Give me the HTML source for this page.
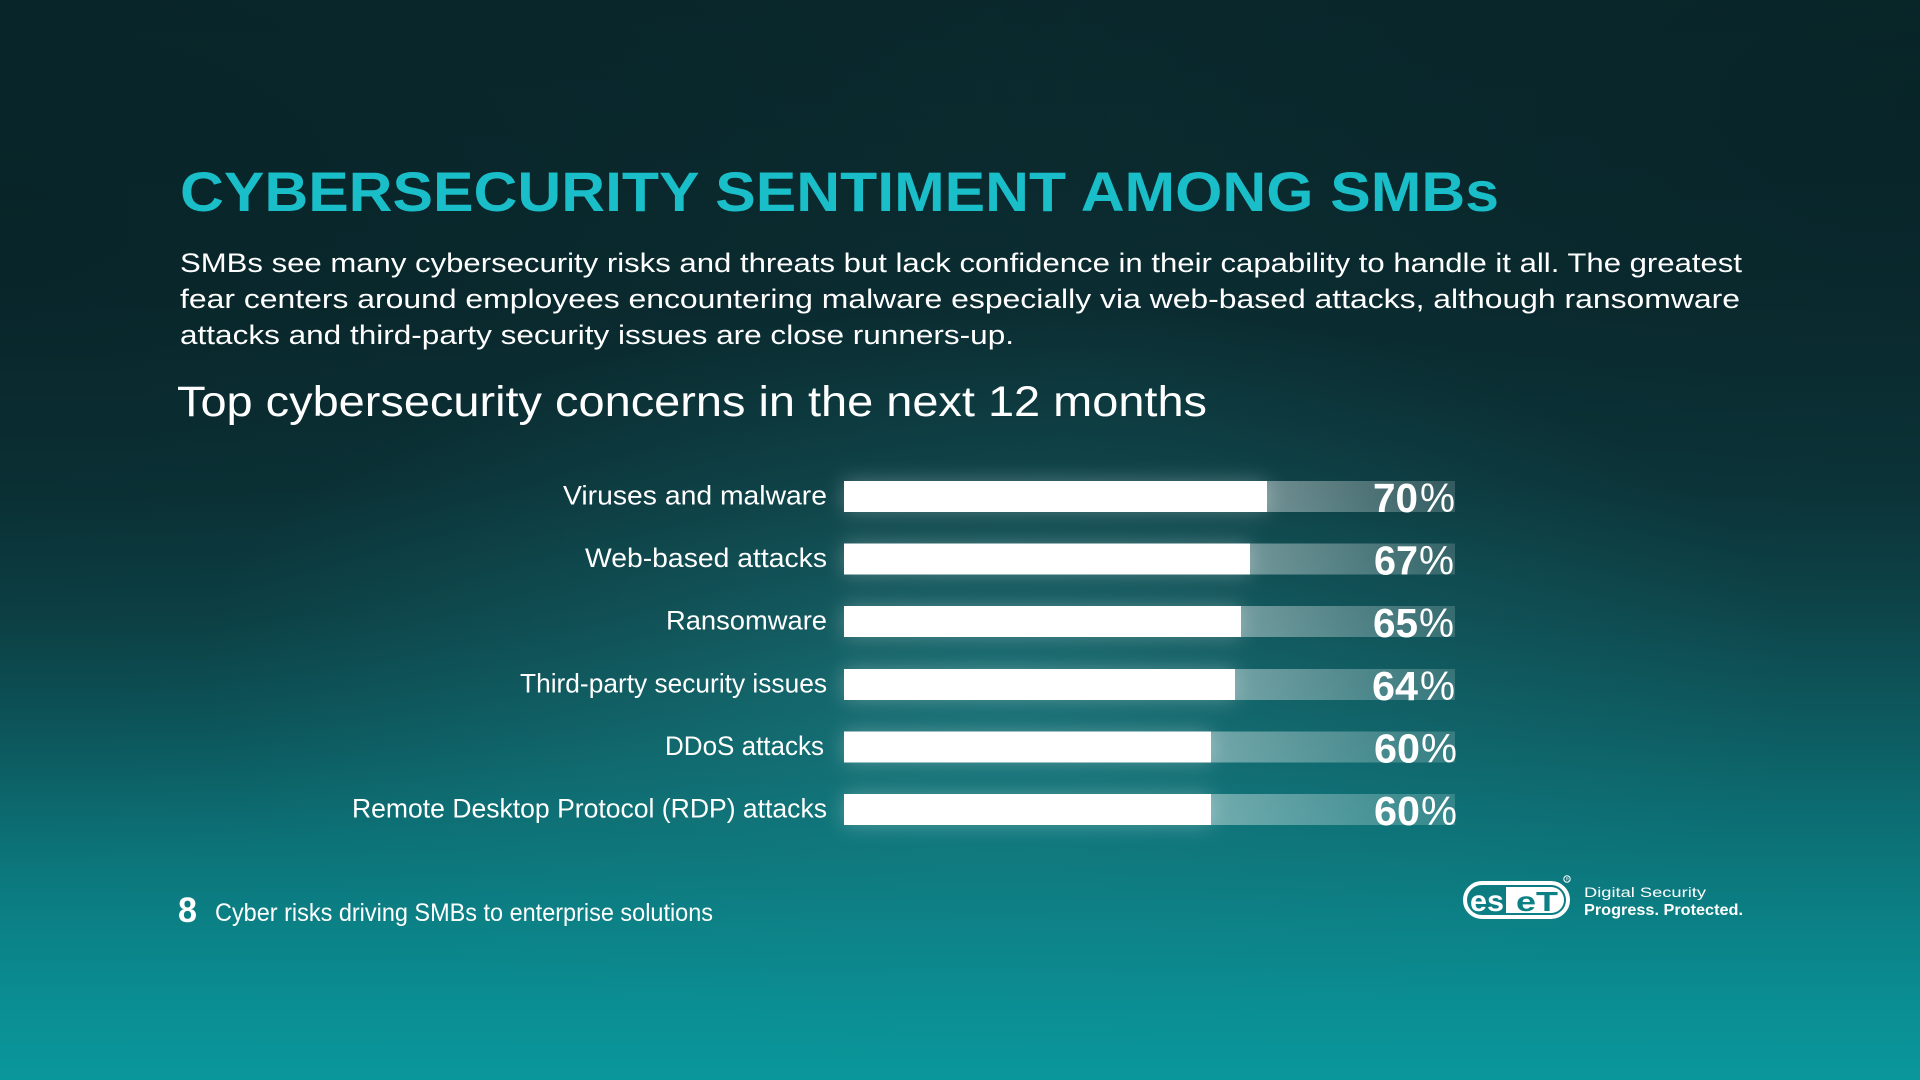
<!DOCTYPE html>
<html>
<head>
<meta charset="utf-8">
<style>
html,body{margin:0;padding:0;}
body{width:1920px;height:1080px;overflow:hidden;position:relative;
background:linear-gradient(to bottom,#0a292d 0%,#0b2d32 28%,#0c363b 45%,#0d464b 57%,#0d585d 66%,#0c6c71 75%,#0b8085 85%,#0a8e93 93%,#0a979b 100%);}
svg{position:absolute;left:0;top:0;}
text{font-family:"Liberation Sans",sans-serif;}
</style>
</head>
<body>
<svg width="1920" height="1080" viewBox="0 0 1920 1080" xmlns="http://www.w3.org/2000/svg">
<defs>
  <radialGradient id="glow" cx="0.5" cy="0.5" r="0.5">
    <stop offset="0" stop-color="#2a9ea3" stop-opacity="0.35"/>
    <stop offset="0.6" stop-color="#1f8a8f" stop-opacity="0.15"/>
    <stop offset="1" stop-color="#1f8a8f" stop-opacity="0"/>
  </radialGradient>
  <radialGradient id="vigL" cx="0" cy="0.2" r="0.6">
    <stop offset="0" stop-color="#051c1f" stop-opacity="0.45"/>
    <stop offset="1" stop-color="#051c1f" stop-opacity="0"/>
  </radialGradient>
  <radialGradient id="vigR" cx="1" cy="0.1" r="0.5">
    <stop offset="0" stop-color="#051c1f" stop-opacity="0.4"/>
    <stop offset="1" stop-color="#051c1f" stop-opacity="0"/>
  </radialGradient>
  <linearGradient id="track" x1="0" y1="0" x2="1" y2="0">
    <stop offset="0" stop-color="#ffffff" stop-opacity="0.40"/>
    <stop offset="1" stop-color="#ffffff" stop-opacity="0.16"/>
  </linearGradient>
  <filter id="blur" x="-20%" y="-100%" width="140%" height="300%">
    <feGaussianBlur stdDeviation="10"/>
  </filter>
</defs>

<!-- background overlays -->
<rect x="0" y="0" width="1920" height="1080" fill="url(#vigL)"/>
<rect x="0" y="0" width="1920" height="1080" fill="url(#vigR)"/>
<rect x="200" y="300" width="1600" height="760" fill="url(#glow)"/>

<!-- Title -->
<text x="180" y="211" font-size="56" font-weight="bold" fill="#19bec8" textLength="1319" lengthAdjust="spacingAndGlyphs">CYBERSECURITY SENTIMENT AMONG SMBs</text>

<!-- Paragraph -->
<g fill="#ffffff" font-size="27">
  <text x="180" y="272" textLength="1562" lengthAdjust="spacingAndGlyphs">SMBs see many cybersecurity risks and threats but lack confidence in their capability to handle it all. The greatest</text>
  <text x="180" y="308" textLength="1560" lengthAdjust="spacingAndGlyphs">fear centers around employees encountering malware especially via web-based attacks, although ransomware</text>
  <text x="180" y="344" textLength="834" lengthAdjust="spacingAndGlyphs">attacks and third-party security issues are close runners-up.</text>
</g>

<!-- Subtitle -->
<text x="177" y="416" font-size="43" fill="#ffffff" textLength="1030" lengthAdjust="spacingAndGlyphs">Top cybersecurity concerns in the next 12 months</text>

<!-- Bar glows -->
<g fill="#ffffff" opacity="0.28" filter="url(#blur)">
  <rect x="844" y="481" width="423" height="31"/>
  <rect x="844" y="543.5" width="406" height="31"/>
  <rect x="844" y="606" width="397" height="31"/>
  <rect x="844" y="669" width="391" height="31"/>
  <rect x="844" y="731.5" width="367" height="31"/>
  <rect x="844" y="794" width="367" height="31"/>
</g>

<!-- Tracks -->
<g fill="url(#track)">
  <rect x="1267" y="481" width="188" height="31"/>
  <rect x="1250" y="543.5" width="205" height="31"/>
  <rect x="1241" y="606" width="214" height="31"/>
  <rect x="1235" y="669" width="220" height="31"/>
  <rect x="1211" y="731.5" width="244" height="31"/>
  <rect x="1211" y="794" width="244" height="31"/>
</g>

<!-- White bars -->
<g fill="#ffffff">
  <rect x="844" y="481" width="423" height="31"/>
  <rect x="844" y="543.5" width="406" height="31"/>
  <rect x="844" y="606" width="397" height="31"/>
  <rect x="844" y="669" width="391" height="31"/>
  <rect x="844" y="731.5" width="367" height="31"/>
  <rect x="844" y="794" width="367" height="31"/>
</g>

<!-- Labels -->
<g fill="#ffffff" font-size="27">
  <text x="563" y="504.5" textLength="264" lengthAdjust="spacingAndGlyphs">Viruses and malware</text>
  <text x="585" y="567" textLength="242" lengthAdjust="spacingAndGlyphs">Web-based attacks</text>
  <text x="666" y="629.5" textLength="161" lengthAdjust="spacingAndGlyphs">Ransomware</text>
  <text x="520" y="692.5" textLength="307" lengthAdjust="spacingAndGlyphs">Third-party security issues</text>
  <text x="665" y="755" textLength="159" lengthAdjust="spacingAndGlyphs">DDoS attacks</text>
  <text x="352" y="817.5" textLength="475" lengthAdjust="spacingAndGlyphs">Remote Desktop Protocol (RDP) attacks</text>
</g>

<!-- Percent values -->
<g fill="#ffffff" font-size="41">
  <text x="1373" y="512" font-weight="bold" textLength="45" lengthAdjust="spacingAndGlyphs">70</text>
  <text x="1420" y="512" textLength="35" lengthAdjust="spacingAndGlyphs">%</text>
  <text x="1374" y="574.5" font-weight="bold" textLength="44" lengthAdjust="spacingAndGlyphs">67</text>
  <text x="1419" y="574.5" textLength="35" lengthAdjust="spacingAndGlyphs">%</text>
  <text x="1373" y="637" font-weight="bold" textLength="45" lengthAdjust="spacingAndGlyphs">65</text>
  <text x="1419" y="637" textLength="35" lengthAdjust="spacingAndGlyphs">%</text>
  <text x="1372" y="700" font-weight="bold" textLength="46" lengthAdjust="spacingAndGlyphs">64</text>
  <text x="1420" y="700" textLength="35" lengthAdjust="spacingAndGlyphs">%</text>
  <text x="1374" y="762.5" font-weight="bold" textLength="46" lengthAdjust="spacingAndGlyphs">60</text>
  <text x="1421" y="762.5" textLength="36" lengthAdjust="spacingAndGlyphs">%</text>
  <text x="1374" y="825" font-weight="bold" textLength="46" lengthAdjust="spacingAndGlyphs">60</text>
  <text x="1421" y="825" textLength="36" lengthAdjust="spacingAndGlyphs">%</text>
</g>

<!-- Footer -->
<text x="178" y="922" font-size="35" font-weight="bold" fill="#ffffff" textLength="19" lengthAdjust="spacingAndGlyphs">8</text>
<text x="215" y="921" font-size="25" fill="#ffffff" textLength="498" lengthAdjust="spacingAndGlyphs">Cyber risks driving SMBs to enterprise solutions</text>

<!-- ESET logo -->
<g>
  <rect x="1465" y="883" width="103" height="34" rx="17" ry="17" fill="none" stroke="#ffffff" stroke-width="4"/>
  <path d="M1506 887 H1551 A13 13 0 0 1 1564 900 A13 13 0 0 1 1551 913 H1506 Z" fill="#ffffff"/>
  <text x="1470" y="911" font-size="30" font-weight="bold" fill="#ffffff" textLength="34" lengthAdjust="spacingAndGlyphs">es</text>
  <text x="1516" y="911" font-size="28" font-weight="bold" fill="#0b8186" textLength="42" lengthAdjust="spacingAndGlyphs">eT</text>
  <circle cx="1567" cy="879" r="3.2" fill="none" stroke="#ffffff" stroke-width="1"/>
  <text x="1565.6" y="880.6" font-size="4.5" fill="#ffffff">R</text>
</g>
<text x="1584" y="897" font-size="14" fill="#ffffff" textLength="122" lengthAdjust="spacingAndGlyphs">Digital Security</text>
<text x="1584" y="915" font-size="16" font-weight="bold" fill="#ffffff" textLength="159" lengthAdjust="spacingAndGlyphs">Progress. Protected.</text>
</svg>
</body>
</html>
